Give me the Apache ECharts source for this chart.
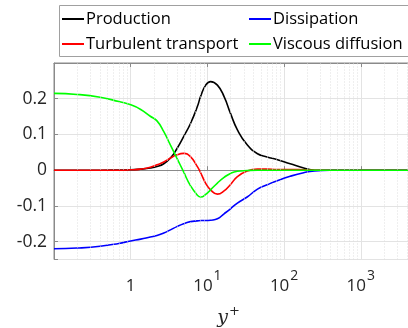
<!DOCTYPE html>
<html>
<head>
<meta charset="utf-8">
<script src="https://cdn.jsdelivr.net/npm/echarts@6/dist/echarts.min.js"></script>
<style>
html,body{margin:0;padding:0;background:#fff;}
#chart{width:408px;height:328px;}
</style>
</head>
<body>
<div id="chart"></div>
<script>
// y+ sample positions (shared by all curves)
var yPlus = [0.1, 0.2, 0.4, 0.7, 1.0, 1.35, 1.8, 2.2, 2.7, 3.3, 4.0, 4.9, 6.0, 7.4, 8.2, 9.5, 11, 13.5, 16.5, 20, 24.6, 33, 45, 60, 80, 120, 180, 250, 400, 1000, 5000];

var production = [0, 0, 0, 0.0005, 0.001, 0.003, 0.006, 0.010, 0.018, 0.034, 0.060, 0.094, 0.130, 0.178, 0.208, 0.238, 0.248, 0.238, 0.206, 0.159, 0.113, 0.071, 0.046, 0.037, 0.030, 0.018, 0.006, 0.000, 0, 0, 0];
var dissipation = [-0.220, -0.218, -0.213, -0.205, -0.198, -0.193, -0.187, -0.183, -0.176, -0.167, -0.158, -0.150, -0.144, -0.142, -0.141, -0.141, -0.140, -0.136, -0.122, -0.108, -0.092, -0.075, -0.053, -0.041, -0.030, -0.017, -0.007, -0.002, 0, 0, 0];
var turbulentTransport = [0, 0, 0, 0, 0.001, 0.003, 0.008, 0.015, 0.023, 0.034, 0.043, 0.047, 0.038, 0.010, -0.008, -0.037, -0.055, -0.067, -0.058, -0.040, -0.018, -0.002, 0.003, 0.003, 0.002, 0.002, 0.001, 0, 0, 0, 0];
var viscousDiffusion = [0.215, 0.212, 0.204, 0.192, 0.183, 0.170, 0.151, 0.138, 0.108, 0.070, 0.034, -0.005, -0.043, -0.070, -0.075, -0.068, -0.055, -0.036, -0.020, -0.009, -0.003, -0.001, 0, 0, 0, 0, 0, 0, 0, 0, 0];

var seriesNames = ['Production', 'Dissipation', 'Turbulent transport', 'Viscous diffusion'];
var seriesColors = ['#000000', '#0000ff', '#ff0000', '#00ff00'];
var seriesValues = [production, dissipation, turbulentTransport, viscousDiffusion];

var xMin = 0.1, xMax = 4250;
var yMin = -0.25, yMax = 0.3;
var yTickLabels = ['-0.2', '-0.1', '0', '0.1', '0.2'];

// minor log grid positions (2..9 per decade)
var minorGrid = [];
for (var k = -1; k <= 3; k++) {
  for (var d = 2; d <= 9; d++) {
    var mv = +(d * Math.pow(10, k)).toPrecision(3);
    if (mv < xMax) minorGrid.push(mv);
  }
}

var FONT = '"Open Sans", "Noto Sans", sans-serif';
var AX = '#262626';
var BORDER = '#8a8a8a';

function pairs(vals) { return yPlus.map(function (x, i) { return [x, vals[i]]; }); }

var series = [{
  name: '_grid', type: 'line', data: [], z: 1, silent: true,
  markLine: {
    silent: true, symbol: ['none', 'none'], label: { show: false }, animation: false,
    lineStyle: { type: [1, 2], color: '#dedede', width: 1 },
    data: minorGrid.map(function (v) { return { xAxis: v }; })
  }
}];
seriesNames.forEach(function (n, i) {
  series.push({
    name: n, type: 'line', data: pairs(seriesValues[i]),
    symbol: 'none', showSymbol: false, smooth: true, z: 3,
    lineStyle: { color: seriesColors[i], width: 1.6 },
    itemStyle: { color: seriesColors[i] }
  });
});

var legendText = { fontFamily: FONT, fontSize: 16.5, color: '#000', lineHeight: 20, padding: [0, 0, 0, -3] };
var chart = echarts.init(document.getElementById('chart'));
chart.setOption({
  animation: false,
  backgroundColor: '#fff',
  grid: { left: 54, top: 63, right: -1, height: 196.5, outerBoundsMode: 'none', containLabel: false, show: true, borderColor: BORDER, borderWidth: 1, backgroundColor: 'transparent' },
  graphic: [{
    type: 'rect', z: 0, silent: true,
    shape: { x: 59.5, y: 5.5, width: 360, height: 51 },
    style: { fill: '#fff', stroke: '#a0a0a0', lineWidth: 1 }
  }],
  legend: [{
    data: ['Production', 'Turbulent transport'], orient: 'vertical', left: 62, top: 9, padding: 0,
    icon: 'rect', itemWidth: 22, itemHeight: 2, itemGap: 5, z: 5, textStyle: legendText
  }, {
    data: ['Dissipation', 'Viscous diffusion'], orient: 'vertical', left: 249, top: 9, padding: 0,
    icon: 'rect', itemWidth: 22, itemHeight: 2, itemGap: 5, z: 5, textStyle: legendText
  }],
  xAxis: [{
    type: 'log', logBase: 10, min: xMin, max: xMax, position: 'bottom',
    name: '{i|y}{p|+}', nameLocation: 'middle', nameGap: 46,
    nameTextStyle: {
      padding: [0, 6, 0, 0],
      rich: {
        i: { fontFamily: '"DejaVu Serif", serif', fontStyle: 'italic', fontSize: 19, color: AX },
        p: { fontFamily: '"DejaVu Serif", serif', fontSize: 13, color: AX, verticalAlign: 'bottom', padding: [0, 0, 12, 1] }
      }
    },
    axisLine: { show: true, lineStyle: { color: BORDER } },
    axisTick: { show: true, inside: true, length: 4, lineStyle: { color: BORDER } },
    splitLine: { show: true, lineStyle: { color: '#e3e3e3', width: 1 } },
    axisLabel: {
      margin: 10,
      formatter: function (v) {
        var e = Math.log(v) / Math.LN10;
        if (Math.abs(e - Math.round(e)) > 1e-6) return '';
        e = Math.round(e);
        if (e === 0) return '{b|1}';
        if (e >= 1 && e <= 3) return '{b|10}{s|' + e + '}';
        return '';
      },
      rich: {
        b: { fontFamily: FONT, fontSize: 17, color: AX, padding: [8, 0, 0, 0] },
        s: { fontFamily: FONT, fontSize: 14, color: AX, verticalAlign: 'top', padding: [0, 0, 0, 1] }
      }
    }
  }, {
    type: 'log', logBase: 10, min: xMin, max: xMax, position: 'top',
    axisLine: { show: true, lineStyle: { color: BORDER } },
    axisTick: { show: true, inside: true, length: 4, lineStyle: { color: BORDER } },
    splitLine: { show: false }, axisLabel: { show: false }
  }],
  yAxis: {
    type: 'value', min: yMin, max: yMax,
    axisLine: { show: true, lineStyle: { color: BORDER } },
    axisTick: { show: true, inside: true, length: 4, lineStyle: { color: BORDER } },
    splitLine: { show: true, lineStyle: { color: '#e3e3e3', width: 1 } },
    axisLabel: {
      margin: 7, fontFamily: FONT, fontSize: 17.5, color: AX,
      formatter: function (v) {
        var r = Math.round(v * 10) / 10;
        if (Math.abs(v - r) > 1e-6) return '';
        var s = String(r);
        return yTickLabels.indexOf(s) >= 0 ? s : '';
      }
    }
  },
  series: series
});
</script>
</body>
</html>
